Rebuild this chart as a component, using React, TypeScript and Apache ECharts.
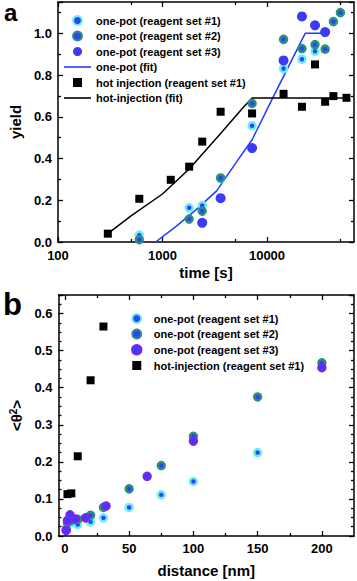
import React, { useEffect, useRef } from "react";
import * as echarts from "echarts";

// ---------- panel a: yield vs time ----------
const timeHot = [300, 600, 1200, 1800, 2400, 3600, 7200, 14400, 21600, 28800, 36000, 43200, 57600];
const yieldHot = [0.04, 0.207, 0.298, 0.361, 0.481, 0.624, 0.616, 0.71, 0.648, 0.851, 0.672, 0.699, 0.691];

const timeSet1 = [600, 1800, 2400, 3600, 7200, 14400, 21600, 28800];
const yieldSet1 = [0.033, 0.164, 0.175, 0.305, 0.557, 0.831, 0.876, 0.914];
const timeSet2 = [600, 1800, 2400, 3600, 7200, 14400, 21600, 28800, 36000, 43200, 50400];
const yieldSet2 = [0.011, 0.11, 0.148, 0.307, 0.664, 0.971, 0.927, 0.946, 0.924, 1.056, 1.099];
const timeSet3 = [2400, 3600, 7200, 14400, 21600, 28800, 36000];
const yieldSet3 = [0.092, 0.21, 0.45, 0.87, 1.081, 1.038, 1.006];

const timeFitOnePot = [860, 1350, 2100, 3300, 5000, 7200, 11600, 23200, 36000];
const yieldFitOnePot = [0.0, 0.075, 0.155, 0.245, 0.377, 0.49, 0.7, 1.0, 1.0];
const timeFitHot = [300, 500, 1000, 1800, 3600, 5800, 7200, 57600];
const yieldFitHot = [0.04, 0.125, 0.23, 0.35, 0.52, 0.64, 0.69, 0.69];

const timeLabels = [100, 1000, 10000];
const timeMinorTicks = [500, 5000, 50000];

// ---------- panel b: <theta^2> vs distance ----------
const distSet1 = [1, 2, 5, 10, 20, 30, 50, 75, 100, 150];
const thetaSet1 = [0.016, 0.033, 0.036, 0.031, 0.038, 0.049, 0.077, 0.111, 0.147, 0.225];
const distSet2 = [1, 2, 5, 10, 20, 30, 50, 75, 100, 150, 200];
const thetaSet2 = [0.018, 0.037, 0.042, 0.045, 0.056, 0.077, 0.127, 0.19, 0.269, 0.375, 0.467];
const distSet3 = [1, 2, 4, 8, 16, 32, 64, 100, 200];
const thetaSet3 = [0.015, 0.042, 0.057, 0.046, 0.049, 0.081, 0.161, 0.256, 0.454];
const distHot = [2, 5, 10, 20, 30];
const thetaHot = [0.113, 0.115, 0.215, 0.42, 0.565];

const distLabels = [0, 50, 100, 150, 200];
const distMinorTicks = [25, 75, 125, 175];

const N1 = "one-pot (reagent set #1)";
const N2 = "one-pot (reagent set #2)";
const N3 = "one-pot (reagent set #3)";
const NFIT1 = "one-pot (fit)";
const NHOT_A = "hot injection (reagent set #1)";
const NFIT2 = "hot-injection (fit)";
const NHOT_B = "hot-injection (reagent set #1)";

const FONT = "'Liberation Sans', Arial, sans-serif";
const BLUE = "#2f42ff";
const CYAN = "#66f1ee";
const GREEN = "#2a9277";
const BIGBLUE = "#3c3af3";
const PURPLE = "#7a24f0";
const FITBLUE = "#1d3cff";
const SQUARE_ICON = "path://M0,0L10,0L10,10L0,10Z";
const LINE_ICON = "path://M0,0L27,0L27,1.6L0,1.6Z";

const zip = (a: number[], b: number[]) => a.map((v, i) => [v, b[i]]);

const tickLine = { color: "#000", width: 1.3 };
const axLine = { show: true, onZero: false, lineStyle: { color: "#000", width: 1.5 } };
const lbl = { color: "#000", fontSize: 13, fontWeight: "bold" as const, fontFamily: FONT };
const nameStyle = { color: "#000", fontSize: 15, fontWeight: "bold" as const, fontFamily: FONT };
const legendText = { fontSize: 11, fontWeight: "bold" as const, fontFamily: FONT, color: "#000" };

function xAxisDef(grid: number, pos: string, type: string, min: number, max: number, ticks: number[], len: number, withLine: boolean, labels?: any, name?: any) {
  const ax: any = {
    type,
    gridIndex: grid,
    position: pos,
    min,
    max,
    axisLine: withLine ? axLine : { show: false, onZero: false },
    axisTick: { show: true, inside: true, length: len, lineStyle: tickLine, customValues: ticks },
    axisLabel: labels ? labels : { show: false },
    splitLine: { show: false },
    minorTick: { show: false },
  };
  if (type === "log") ax.logBase = 10;
  if (name) Object.assign(ax, name);
  return ax;
}

function yAxisDef(grid: number, pos: string, max: number, interval: number, minorSplit: number, withLabels: boolean, name?: any) {
  const ax: any = {
    type: "value",
    gridIndex: grid,
    position: pos,
    min: 0,
    max,
    interval,
    axisLine: axLine,
    axisTick: { show: true, inside: true, length: 5, lineStyle: tickLine },
    minorTick: { show: true, splitNumber: minorSplit, length: 3, lineStyle: tickLine },
    splitLine: { show: false },
    axisLabel: withLabels
      ? {
          ...lbl,
          margin: 6,
          formatter: (v: number) => {
            const k = v / interval;
            return Math.abs(k - Math.round(k)) < 1e-6 ? v.toFixed(1) : "";
          },
        }
      : { show: false },
  };
  if (name) Object.assign(ax, name);
  return ax;
}

const ringStyle = (center: string, ring: string) => ({ color: center, borderColor: ring, borderWidth: 2.5, opacity: 1 });

export default function App() {
  const ref = useRef<HTMLDivElement>(null);
  useEffect(() => {
    const chart = echarts.init(ref.current!, null, { renderer: "svg" });
    const option: any = {
      animation: false,
      backgroundColor: "#fff",
      grid: [
        { left: 56, top: 2, width: 298, height: 240 },
        { left: 56, top: 295, width: 298, height: 241 },
      ],
      xAxis: [
        xAxisDef(0, "bottom", "log", 100, 68000, timeLabels, 5, true,
          { ...lbl, margin: 7, customValues: timeLabels, formatter: (v: number) => String(Math.round(v)) },
          { name: "time [s]", nameLocation: "middle", nameGap: 23, nameTextStyle: nameStyle }),
        xAxisDef(0, "top", "log", 100, 68000, timeLabels, 5, true),
        xAxisDef(0, "bottom", "log", 100, 68000, timeMinorTicks, 3, false),
        xAxisDef(0, "top", "log", 100, 68000, timeMinorTicks, 3, false),
        xAxisDef(1, "bottom", "value", -5, 225, distLabels, 5, true,
          { ...lbl, margin: 6, customValues: distLabels, formatter: (v: number) => String(v) },
          { name: "distance [nm]", nameLocation: "middle", nameGap: 27, nameTextStyle: nameStyle }),
        xAxisDef(1, "top", "value", -5, 225, distLabels, 5, true),
        xAxisDef(1, "bottom", "value", -5, 225, distMinorTicks, 3, false),
        xAxisDef(1, "top", "value", -5, 225, distMinorTicks, 3, false),
      ],
      yAxis: [
        yAxisDef(0, "left", 1.15, 0.2, 2, true, { name: "yield", nameLocation: "middle", nameGap: 34, nameRotate: 90, nameTextStyle: nameStyle }),
        yAxisDef(0, "right", 1.15, 0.2, 2, false),
        yAxisDef(1, "left", 0.65, 0.1, 4, true, {
          name: "<θ{s|2}>",
          nameLocation: "middle",
          nameGap: 34,
          nameRotate: 90,
          nameTextStyle: { ...nameStyle, rich: { s: { fontSize: 10, fontWeight: "bold", fontFamily: FONT, color: "#000", verticalAlign: "top", padding: [0, 0, 6, 0] } } },
        }),
        yAxisDef(1, "right", 0.65, 0.1, 4, false),
      ],
      legend: [
        {
          orient: "vertical",
          left: 59,
          top: 10,
          itemWidth: 27,
          itemHeight: 9,
          itemGap: 4.5,
          textStyle: legendText,
          data: [
            N1,
            N2,
            N3,
            { name: NFIT1, icon: LINE_ICON, itemStyle: { color: FITBLUE } },
            { name: NHOT_A, icon: SQUARE_ICON },
            { name: NFIT2, icon: LINE_ICON, itemStyle: { color: "#000" } },
          ],
        },
        {
          orient: "vertical",
          left: 126,
          top: 308,
          itemWidth: 24,
          itemHeight: 9,
          itemGap: 4.5,
          textStyle: legendText,
          data: [
            N1,
            N2,
            { name: N3, itemStyle: { color: BLUE, borderColor: PURPLE, borderWidth: 2.5 } },
            { name: NHOT_B, icon: SQUARE_ICON },
          ],
        },
      ],
      series: [
        { type: "line", name: NFIT1, xAxisIndex: 0, yAxisIndex: 0, data: zip(timeFitOnePot, yieldFitOnePot), symbol: "none", showSymbol: false, lineStyle: { color: FITBLUE, width: 1.5 }, itemStyle: { color: FITBLUE }, z: 2 },
        { type: "line", name: NFIT2, xAxisIndex: 0, yAxisIndex: 0, data: zip(timeFitHot, yieldFitHot), symbol: "none", showSymbol: false, lineStyle: { color: "#000", width: 1.5 }, itemStyle: { color: "#000" }, z: 2 },
        { type: "scatter", name: N1, xAxisIndex: 0, yAxisIndex: 0, data: zip(timeSet1, yieldSet1), symbol: "circle", symbolSize: 7, itemStyle: ringStyle(BLUE, CYAN), z: 3 },
        { type: "scatter", name: N2, xAxisIndex: 0, yAxisIndex: 0, data: zip(timeSet2, yieldSet2), symbol: "circle", symbolSize: 7, itemStyle: ringStyle(BLUE, GREEN), z: 3 },
        { type: "scatter", name: N3, xAxisIndex: 0, yAxisIndex: 0, data: zip(timeSet3, yieldSet3), symbol: "circle", symbolSize: 10, itemStyle: { color: BIGBLUE, opacity: 1 }, z: 3 },
        { type: "scatter", name: NHOT_A, xAxisIndex: 0, yAxisIndex: 0, data: zip(timeHot, yieldHot), symbol: "rect", symbolSize: 8, itemStyle: { color: "#000", opacity: 1 }, z: 3 },

        { type: "scatter", name: N1, xAxisIndex: 4, yAxisIndex: 2, data: zip(distSet1, thetaSet1), symbol: "circle", symbolSize: 7, itemStyle: ringStyle(BLUE, CYAN), z: 3 },
        { type: "scatter", name: N2, xAxisIndex: 4, yAxisIndex: 2, data: zip(distSet2, thetaSet2), symbol: "circle", symbolSize: 7, itemStyle: ringStyle(BLUE, GREEN), z: 3 },
        { type: "scatter", name: N3, xAxisIndex: 4, yAxisIndex: 2, data: zip(distSet3, thetaSet3), symbol: "circle", symbolSize: 7, itemStyle: ringStyle(BLUE, PURPLE), z: 3 },
        { type: "scatter", name: NHOT_B, xAxisIndex: 4, yAxisIndex: 2, data: zip(distHot, thetaHot), symbol: "rect", symbolSize: 8, itemStyle: { color: "#000", opacity: 1 }, z: 3 },
      ],
      graphic: [
        { type: "text", left: 4, top: 0, style: { text: "a", fontSize: 24, fontWeight: "bold", fontFamily: FONT, fill: "#000" } },
        { type: "text", left: 3, top: 289, style: { text: "b", fontSize: 31, fontWeight: "bold", fontFamily: FONT, fill: "#000" } },
      ],
    };
    chart.setOption(option);
    return () => chart.dispose();
  }, []);
  return <div ref={ref} style={{ position: "fixed", left: 0, top: 0, width: 357, height: 581 }} />;
}
